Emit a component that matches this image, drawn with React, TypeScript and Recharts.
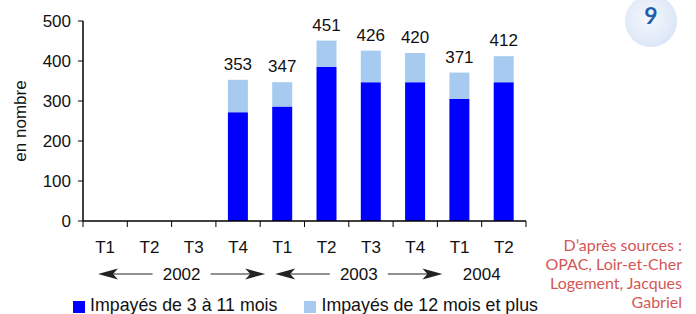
import React from 'react';
import { BarChart, Bar, XAxis, YAxis, Legend, LabelList } from 'recharts';

const periods = ['2002 T1', '2002 T2', '2002 T3', '2002 T4', '2003 T1', '2003 T2', '2003 T3', '2003 T4', '2004 T1', '2004 T2'];
const quarterLabels = ['T1', 'T2', 'T3', 'T4', 'T1', 'T2', 'T3', 'T4', 'T1', 'T2'];
const shortTerm = [null, null, null, 272, 286, 385, 347, 347, 305, 347];
const longTerm = [null, null, null, 81, 61, 66, 79, 73, 66, 65];
const totals = [null, null, null, 353, 347, 451, 426, 420, 371, 412];
const yearLabels = ['2002', '2003', '2004'];
const yearSpans = [4, 4, 2];
const yearArrows = [true, true, false];
const yTicks = [0, 100, 200, 300, 400, 500];
const seriesNames = ['Impayés de 3 à 11 mois', 'Impayés de 12 mois et plus'];
const sourceLines = ['D’après sources :', 'OPAC, Loir-et-Cher', 'Logement, Jacques', 'Gabriel'];

const data = periods.map((p, i) => ({
  key: p,
  quarter: quarterLabels[i],
  short: shortTerm[i],
  long: longTerm[i],
  total: totals[i],
}));

const W = 696;
const H = 314;
const MARGIN = { top: 21, right: 170, bottom: 0, left: 0 };
const Y_W = 83;
const X_H = 93;
const PLOT_W = W - MARGIN.left - MARGIN.right - Y_W;
const STEP = PLOT_W / periods.length;

const DARK = '#0000ff';
const LIGHT = '#a6caf0';
const FONT = '"Liberation Sans", Arial, sans-serif';

const groupStarts: number[] = [];
{
  let acc = 0;
  yearSpans.forEach((s) => {
    groupStarts.push(acc);
    acc += s;
  });
}

function Arrow({ tip, y, dir }: { tip: number; y: number; dir: number }) {
  const len = 20;
  const hh = 5.5;
  const notch = 15;
  const d = `M${tip},${y} L${tip + dir * len},${y - hh} L${tip + dir * notch},${y} L${tip + dir * len},${y + hh} Z`;
  return <path d={d} fill="#222" stroke="none" />;
}

function QuarterTick(props: any) {
  const { x, y, payload } = props;
  const i = payload.index;
  const half = STEP / 2;
  const els: any[] = [];
  els.push(<line key="t0" x1={x - half} y1={y} x2={x - half} y2={y + 6} stroke="#000" strokeWidth={1} />);
  if (i === periods.length - 1) {
    els.push(<line key="t1" x1={x + half} y1={y} x2={x + half} y2={y + 6} stroke="#000" strokeWidth={1} />);
  }
  els.push(
    <text key="q" x={x} y={y + 32} textAnchor="middle" fontSize={17} fill="#111" fontFamily={FONT}>
      {quarterLabels[i]}
    </text>
  );
  const g = groupStarts.indexOf(i);
  if (g >= 0) {
    const L = x - half;
    const R = L + yearSpans[g] * STEP;
    const ay = y + 53;
    if (yearArrows[g]) {
      const tipL = L + 15;
      const tipR = R + 5;
      const c = (tipL + tipR) / 2;
      els.push(<line key="la" x1={tipL + 15} y1={ay} x2={c - 29} y2={ay} stroke="#222" strokeWidth={1} />);
      els.push(<line key="ra" x1={c + 29} y1={ay} x2={tipR - 15} y2={ay} stroke="#222" strokeWidth={1} />);
      els.push(<Arrow key="ah1" tip={tipL} y={ay} dir={1} />);
      els.push(<Arrow key="ah2" tip={tipR} y={ay} dir={-1} />);
      els.push(
        <text key="yr" x={c} y={y + 59} textAnchor="middle" fontSize={17} fill="#111" fontFamily={FONT}>
          {yearLabels[g]}
        </text>
      );
    } else {
      els.push(
        <text key="yr" x={(L + R) / 2} y={y + 59} textAnchor="middle" fontSize={17} fill="#111" fontFamily={FONT}>
          {yearLabels[g]}
        </text>
      );
    }
  }
  return <g>{els}</g>;
}

function LegendContent() {
  const colors = [DARK, LIGHT];
  return (
    <div style={{ display: 'flex', alignItems: 'center', fontFamily: FONT, fontSize: 17.8, lineHeight: '19px', color: '#111', whiteSpace: 'nowrap' }}>
      {seriesNames.map((n, i) => (
        <div key={n} style={{ display: 'flex', alignItems: 'center', marginRight: i === 0 ? 27 : 0 }}>
          <span style={{ display: 'inline-block', width: 12, height: 12, background: colors[i], marginRight: 5, marginTop: 3 }} />
          <span>{n}</span>
        </div>
      ))}
    </div>
  );
}

export default function App() {
  return (
    <div style={{ position: 'absolute', left: 0, top: 0, width: W, height: H, overflow: 'hidden', background: '#fff', fontFamily: FONT }}>
      <BarChart width={W} height={H} data={data} margin={MARGIN} barSize={20}>
        <XAxis
          dataKey="key"
          height={X_H}
          interval={0}
          tickSize={0}
          tickMargin={0}
          tickLine={false}
          axisLine={{ stroke: '#000', strokeWidth: 1.5 }}
          tick={<QuarterTick />}
        />
        <XAxis xAxisId="top" dataKey="key" orientation="top" height={0} tick={false} tickLine={false} axisLine={{ stroke: '#c4c4c4', strokeWidth: 1.5 }} />
        <YAxis
          width={Y_W}
          domain={[0, 500]}
          ticks={yTicks}
          interval={0}
          tickSize={5}
          tickMargin={7}
          axisLine={{ stroke: '#000', strokeWidth: 1.5 }}
          tickLine={{ stroke: '#000' }}
          tick={{ fontSize: 17, fill: '#111', fontFamily: FONT }}
          label={{ value: 'en nombre', angle: -90, position: 'insideLeft', offset: 20, style: { textAnchor: 'middle', fontSize: 17, fill: '#111', fontFamily: FONT } }}
        />
        <YAxis yAxisId="right" orientation="right" width={0} domain={[0, 500]} tick={false} tickLine={false} axisLine={{ stroke: '#c4c4c4', strokeWidth: 1.5 }} />
        <Legend
          layout="horizontal"
          verticalAlign="middle"
          align="center"
          content={<LegendContent />}
          wrapperStyle={{ top: 296, left: 73, width: 'auto', height: 'auto' }}
        />
        <Bar dataKey="short" name={seriesNames[0]} stackId="a" fill={DARK} isAnimationActive={false} />
        <Bar dataKey="long" name={seriesNames[1]} stackId="a" fill={LIGHT} isAnimationActive={false}>
          <LabelList dataKey="total" position="top" offset={10} fontSize={17} fill="#111" fontFamily={FONT} />
        </Bar>
      </BarChart>
      <div
        style={{
          position: 'absolute',
          left: 625,
          top: -5,
          width: 52,
          height: 52,
          borderRadius: '50%',
          background: 'radial-gradient(circle at 45% 45%, #f5f8fd 0%, #e2ebf8 55%, #cbdcf1 100%)',
        }}
      />
      <div style={{ position: 'absolute', left: 625, top: 1, width: 52, textAlign: 'center', fontFamily: 'Lato, "Open Sans", sans-serif', fontWeight: 700, fontSize: 23, lineHeight: '28px', color: '#1f5fa9' }}>
        9
      </div>
      <div style={{ position: 'absolute', right: 14, top: 235, textAlign: 'right', fontFamily: 'Lato, "Open Sans", sans-serif', fontSize: 16, lineHeight: '19px', color: '#d45757' }}>
        {sourceLines.map((l) => (
          <div key={l}>{l}</div>
        ))}
      </div>
    </div>
  );
}
